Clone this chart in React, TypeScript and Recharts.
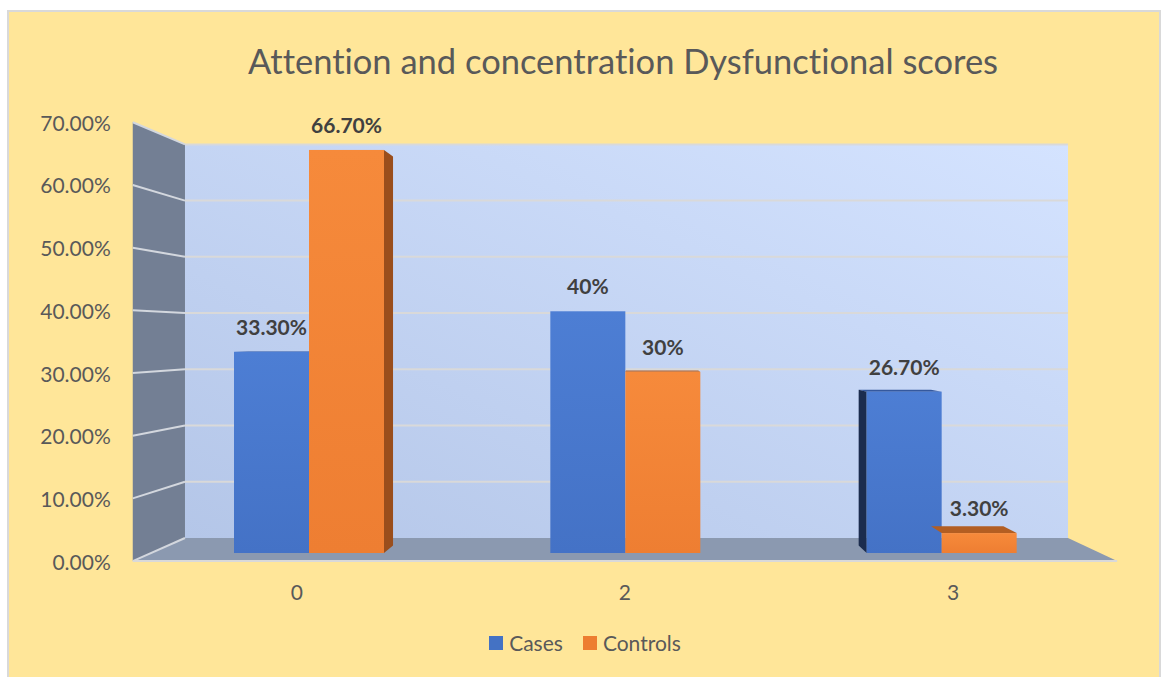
import { BarChart, Bar, XAxis, YAxis, Legend, LabelList, Customized } from "recharts";

const categories = ["0", "2", "3"];
const casesPct = [33.3, 40, 26.7];
const controlsPct = [66.7, 30, 3.3];
const yTicks = [0, 10, 20, 30, 40, 50, 60, 70];

const rows = categories.map((name, i) => ({
  name,
  Cases: casesPct[i],
  Controls: controlsPct[i],
}));

const WIDTH = 1162;
const HEIGHT = 677;
const MARGIN = { top: 130, right: 62, bottom: 120, left: 147 };
const AXIS_SIZE = 4;
const Y_MAX = 70;

// point everything recedes towards, and depth factors relative to the bar plane
const VP = { x: 640, y: 337 };
const FRONT = 1.0373;
const BAR_BACK = 0.9647;
const WALL = 0.9305;

const FONT = "Lato, 'Open Sans', sans-serif";
const TEXT = "#595959";
const noLigatures = { fontVariantLigatures: "none" as const };

const plotLeft = MARGIN.left + AXIS_SIZE;
const plotRight = WIDTH - MARGIN.right;
const plotTop = MARGIN.top;
const plotBottom = HEIGHT - MARGIN.bottom - AXIS_SIZE;
const valueY = (v: number) => plotBottom - (v / Y_MAX) * (plotBottom - plotTop);

const proj = (x: number, y: number, k: number): [number, number] => [
  VP.x + (x - VP.x) * k,
  VP.y + (y - VP.y) * k,
];
const pts = (list: [number, number][]) => list.map((p) => p.join(",")).join(" ");

const formatPct = (v: number) => (Number.isInteger(v) ? `${v}%` : `${v.toFixed(2)}%`);

function Walls() {
  const L = plotLeft;
  const R = plotRight;
  const T = plotTop;
  const B = plotBottom;
  const backWall = [proj(L, T, WALL), proj(R, T, WALL), proj(R, B, WALL), proj(L, B, WALL)];
  const sideWall = [proj(L, T, FRONT), proj(L, T, WALL), proj(L, B, WALL), proj(L, B, FRONT)];
  const floor = [proj(L, B, FRONT), proj(L, B, WALL), proj(R, B, WALL), proj(R, B, FRONT)];
  const floorFrontL = proj(L, B, FRONT);
  const floorFrontR = proj(R, B, FRONT);
  return (
    <g>
      <defs>
        <linearGradient id="backWallFill" x1="0" y1="1" x2="1" y2="0">
          <stop offset="0%" stopColor="#B4C6E8" />
          <stop offset="100%" stopColor="#D4E3FF" />
        </linearGradient>
        <linearGradient id="casesFront" x1="0" y1="0" x2="0" y2="1">
          <stop offset="0%" stopColor="#4D7ED4" />
          <stop offset="100%" stopColor="#4472C6" />
        </linearGradient>
        <linearGradient id="controlsFront" x1="0" y1="0" x2="0" y2="1">
          <stop offset="0%" stopColor="#F68A3B" />
          <stop offset="100%" stopColor="#EE7E32" />
        </linearGradient>
      </defs>
      <text
        x={623}
        y={74}
        textAnchor="middle"
        fontFamily={FONT}
        fontSize={34.5}
        fill={TEXT}
        style={noLigatures}
      >
        Attention and concentration Dysfunctional scores
      </text>
      <polygon points={pts(backWall)} fill="url(#backWallFill)" />
      <polygon points={pts(sideWall)} fill="#737F94" />
      <polygon points={pts(floor)} fill="#8B99B0" />
      {yTicks.map((v) => {
        const y = valueY(v);
        const a = proj(L, y, FRONT);
        const b = proj(L, y, WALL);
        const c = proj(R, y, WALL);
        return (
          <g key={v}>
            <line x1={a[0]} y1={a[1]} x2={b[0]} y2={b[1]} stroke="#D3D7DE" strokeWidth={2} />
            {v > 0 && (
              <line x1={b[0]} y1={b[1]} x2={c[0]} y2={c[1]} stroke="#D9D9D9" strokeWidth={2} />
            )}
          </g>
        );
      })}
      <line
        x1={floorFrontL[0]}
        y1={floorFrontL[1]}
        x2={floorFrontR[0]}
        y2={floorFrontR[1]}
        stroke="#D9D9D9"
        strokeWidth={2}
      />
    </g>
  );
}

type BoxProps = {
  x?: number;
  y?: number;
  width?: number;
  height?: number;
  face: "left" | "right";
  front: string;
  side: string;
  top: string;
};

// draws a bar as a box receding towards VP; only the outer side is ever shown
function Box3D({ x = 0, y = 0, width = 0, height = 0, face, front, side, top }: BoxProps) {
  if (height <= 0) return null;
  const x2 = x + width;
  const y2 = y + height;
  const faces = [];
  if (y > VP.y) {
    faces.push(
      <polygon
        key="top"
        points={pts([[x, y], [x2, y], proj(x2, y, BAR_BACK), proj(x, y, BAR_BACK)])}
        fill={top}
      />
    );
  }
  if (face === "left" && x > VP.x) {
    faces.push(
      <polygon
        key="left"
        points={pts([[x, y], [x, y2], proj(x, y2, BAR_BACK), proj(x, y, BAR_BACK)])}
        fill={side}
      />
    );
  }
  if (face === "right" && x2 < VP.x) {
    faces.push(
      <polygon
        key="right"
        points={pts([[x2, y], [x2, y2], proj(x2, y2, BAR_BACK), proj(x2, y, BAR_BACK)])}
        fill={side}
      />
    );
  }
  return (
    <g>
      {faces}
      <rect x={x} y={y} width={width} height={height} fill={front} />
    </g>
  );
}

// tick labels sit on the front edge of the side wall and floor
function FrontYTick(props: any) {
  const { y, payload } = props;
  const p = proj(plotLeft, y, FRONT);
  return (
    <text x={p[0] - 22} y={p[1] + 8.5} textAnchor="end" fontFamily={FONT} fontSize={21} fill={TEXT}>
      {`${Number(payload.value).toFixed(2)}%`}
    </text>
  );
}

function FrontXTick(props: any) {
  const { x, payload } = props;
  const p = proj(x, plotBottom, FRONT);
  return (
    <text x={p[0]} y={p[1] + 39} textAnchor="middle" fontFamily={FONT} fontSize={21} fill={TEXT}>
      {payload.value}
    </text>
  );
}

const legendItems = [
  { name: "Cases", color: "#4472C4" },
  { name: "Controls", color: "#ED7D31" },
];

function LegendRow() {
  return (
    <div
      style={{
        display: "flex",
        justifyContent: "center",
        alignItems: "center",
        gap: 20,
        paddingLeft: 8,
        fontFamily: FONT,
        fontSize: 21,
        color: TEXT,
      }}
    >
      {legendItems.map((item) => (
        <div key={item.name} style={{ display: "flex", alignItems: "center", gap: 6 }}>
          <span style={{ width: 14, height: 14, background: item.color, display: "inline-block" }} />
          <span>{item.name}</span>
        </div>
      ))}
    </div>
  );
}

const labelStyle = {
  fill: "#404040",
  fontSize: 21,
  fontWeight: 700,
  fontFamily: FONT,
};

export default function App() {
  return (
    <div style={{ position: "absolute", left: 0, top: 0, width: WIDTH, height: HEIGHT, background: "#fff" }}>
      <div
        style={{
          position: "absolute",
          left: 7,
          top: 10,
          width: WIDTH - 7 - 5,
          height: HEIGHT - 10,
          background: "#FFE699",
          borderLeft: "2px solid #D9D9D9",
          borderTop: "2px solid #D9D9D9",
          borderRight: "2px solid #D9D9D9",
        }}
      />
      <div style={{ position: "absolute", left: 0, top: 0 }}>
        <BarChart width={WIDTH} height={HEIGHT} data={rows} margin={MARGIN} barSize={75} barGap={0}>
          <Customized component={<Walls />} />
          <XAxis
            dataKey="name"
            height={AXIS_SIZE}
            axisLine={false}
            tickLine={false}
            tick={<FrontXTick />}
            interval={0}
          />
          <YAxis
            width={AXIS_SIZE}
            domain={[0, Y_MAX]}
            ticks={yTicks}
            interval={0}
            axisLine={false}
            tickLine={false}
            tick={<FrontYTick />}
          />
          <Bar
            dataKey="Cases"
            isAnimationActive={false}
            fill="#4472C4"
            shape={(p: any) => (
              <Box3D {...p} face="left" front="url(#casesFront)" side="#1B2C4E" top="#34589E" />
            )}
          >
            <LabelList dataKey="Cases" position="top" offset={17} formatter={formatPct} {...labelStyle} />
          </Bar>
          <Bar
            dataKey="Controls"
            isAnimationActive={false}
            fill="#ED7D31"
            shape={(p: any) => (
              <Box3D {...p} face="right" front="url(#controlsFront)" side="#9A4E1C" top="#B35E22" />
            )}
          >
            <LabelList dataKey="Controls" position="top" offset={17} formatter={formatPct} {...labelStyle} />
          </Bar>
          <Legend
            verticalAlign="middle"
            wrapperStyle={{ top: 630, left: 0, width: WIDTH }}
            content={() => <LegendRow />}
          />
        </BarChart>
      </div>
    </div>
  );
}
